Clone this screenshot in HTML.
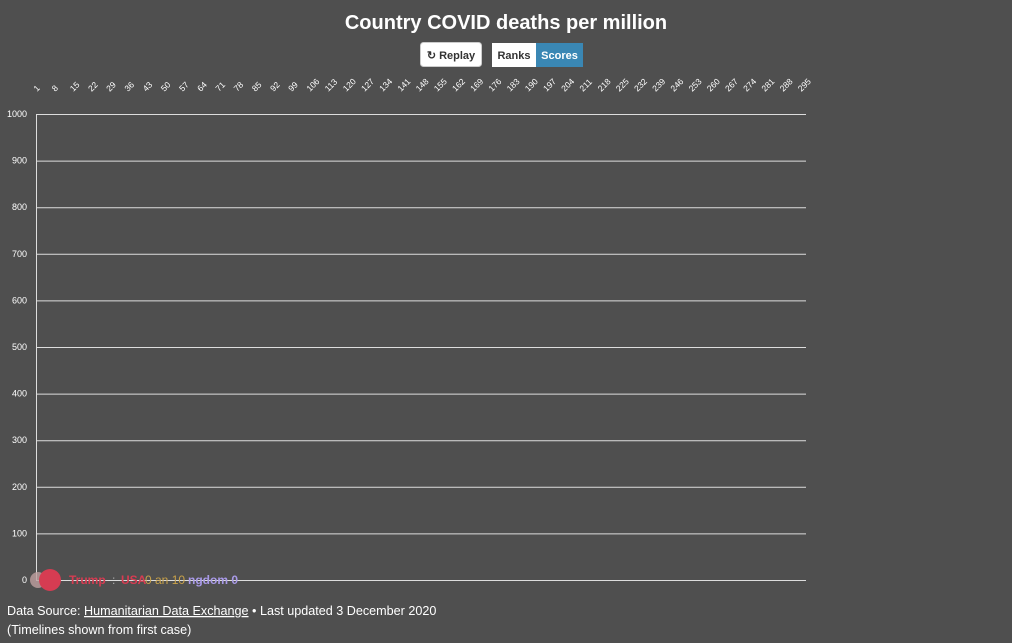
<!DOCTYPE html>
<html><head><meta charset="utf-8"><style>
body{margin:0;width:1012px;height:643px;background:#4f4f4f;overflow:hidden;font-family:"Liberation Sans",sans-serif;}
</style></head><body>
<svg width="1012" height="643" xmlns="http://www.w3.org/2000/svg" style="position:absolute;left:0;top:0">
<text x="506" y="29" fill="#fff" font-size="20" font-weight="bold" text-anchor="middle" font-family="Liberation Sans, sans-serif">Country COVID deaths per million</text>
<rect x="420.5" y="42.5" width="61" height="24" rx="3" fill="#fff" stroke="#ccc"/>
<text x="451" y="59" fill="#333" font-size="11" font-weight="bold" text-anchor="middle">↻ Replay</text>
<rect x="492" y="43" width="44" height="24" fill="#fff"/>
<rect x="536" y="43" width="47" height="24" fill="#3a87b4"/>
<text x="514" y="59" fill="#333" font-size="11" font-weight="bold" text-anchor="middle">Ranks</text>
<text x="559.5" y="59" fill="#fff" font-size="11" font-weight="bold" text-anchor="middle">Scores</text>
<g font-size="8.5" fill="#fff" id="xt"></g>
<g stroke="#ddd" stroke-width="1" id="grid"></g>
<g font-size="9" fill="#fff" text-anchor="end" id="yt"></g>
<line x1="36.5" y1="114" x2="36.5" y2="580" stroke="#ddd"/>
<circle cx="38" cy="580" r="8" fill="#bfa0a0" opacity="0.8"/>
<circle cx="50" cy="580" r="11" fill="#d63c52"/>
<text x="69" y="584" fill="#d63c52" font-size="12" font-weight="bold">Trump</text>
<text x="112" y="584" fill="#aaa" font-size="12">:</text>
<text x="121" y="584" fill="#d63c52" font-size="12" font-weight="bold">USA</text>
<text x="145" y="584" fill="#c9a24a" font-size="12">0 an 10</text>
<text x="188" y="584" fill="#a99ae8" font-size="12" font-weight="bold">ngdom 0</text>
<text x="7" y="615" fill="#fff" font-size="12.6">Data Source: <tspan text-decoration="underline">Humanitarian Data Exchange</tspan> • Last updated 3 December 2020</text>
<text x="7" y="634" fill="#fff" font-size="12.6">(Timelines shown from first case)</text>
</svg>
<script>
var ns="http://www.w3.org/2000/svg";
var xt=document.getElementById("xt"),g=document.getElementById("grid"),yt=document.getElementById("yt");
for(var d=1;d<=295;d+=7){var x=36+(d-1)*2.6;var t=document.createElementNS(ns,"text");t.setAttribute("transform","translate("+(x+1)+",92) rotate(-45)");t.textContent=d;xt.appendChild(t);}
for(var v=0;v<=1000;v+=100){var y=580-v*0.466;var l=document.createElementNS(ns,"line");l.setAttribute("x1",36);l.setAttribute("x2",806);l.setAttribute("y1",y+0.5);l.setAttribute("y2",y+0.5);g.appendChild(l);var t=document.createElementNS(ns,"text");t.setAttribute("x",27);t.setAttribute("y",y+3);t.textContent=v;yt.appendChild(t);}
</script>
</body></html>
